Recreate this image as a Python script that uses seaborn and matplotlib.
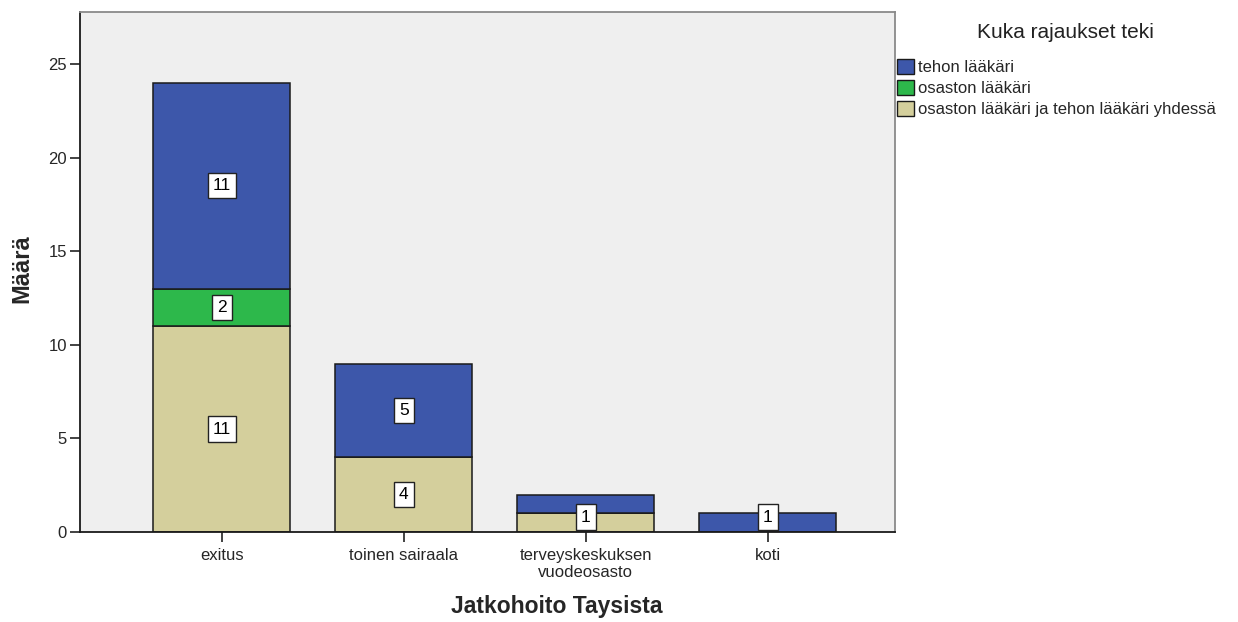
import matplotlib
matplotlib.use("Agg")
import matplotlib.pyplot as plt
from matplotlib.patches import Patch
import numpy as np
import pandas as pd
import seaborn as sns

categories = ["exitus", "toinen sairaala", "terveyskeskuksen\nvuodeosasto", "koti"]
tehon = [11, 5, 1, 1]
osaston = [2, 0, 0, 0]
yhdessa = [11, 4, 1, 0]
series_names = ["tehon lääkäri", "osaston lääkäri", "osaston lääkäri ja tehon lääkäri yhdessä"]
colors = {"tehon lääkäri": "#3D57AA",
          "osaston lääkäri": "#2DB84B",
          "osaston lääkäri ja tehon lääkäri yhdessä": "#D4CF9C"}
y_ticks = [0, 5, 10, 15, 20, 25]

sns.set_theme(style="white")
plt.rcParams["font.family"] = ["Liberation Sans", "DejaVu Sans"]

fig = plt.figure(figsize=(12.38, 6.22), dpi=100)
ax = fig.add_axes([80 / 1238, 90 / 622, 815 / 1238, 520 / 622])
ax.set_facecolor("#EFEFEF")

# stack from bottom: yhdessä, osaston, tehon
layers = [("osaston lääkäri ja tehon lääkäri yhdessä", yhdessa),
          ("osaston lääkäri", osaston),
          ("tehon lääkäri", tehon)]
bottom = np.zeros(len(categories))
label_pos = [[] for _ in categories]
for name, vals in layers:
    vals = np.array(vals, dtype=float)
    df = pd.DataFrame({"cat": categories, "val": vals})
    sns.barplot(data=df, x="cat", y="val", order=categories, color=colors[name],
                saturation=1, width=0.753, bottom=bottom, errorbar=None,
                edgecolor="#1a1a1a", linewidth=1.1, ax=ax)
    for i, v in enumerate(vals):
        if v <= 0:
            continue
        yc = max(bottom[i] + v / 2, 0.8)
        if any(abs(yc - p) < 1.4 for p in label_pos[i]):
            continue
        label_pos[i].append(yc)
        ax.text(i, yc, f"{int(v)}", ha="center", va="center", fontsize=12.5,
                color="black", zorder=5,
                bbox=dict(boxstyle="square,pad=0.3", fc="white", ec="#222222", lw=1.0))
    bottom = bottom + vals

ax.set_xlim(-0.78, 3.70)
ax.set_ylim(0, 27.78)
ax.set_yticks(y_ticks)
ax.set_yticklabels([str(t) for t in y_ticks])
ax.tick_params(axis="both", which="both", direction="out", length=7.5, width=1.2,
               color="#222222", labelsize=12, pad=2, left=True, bottom=True)
ax.tick_params(axis="x", pad=4)

ax.set_xlabel("Jatkohoito Taysista", fontsize=16.5, fontweight="bold")
ax.set_ylabel("Määrä", fontsize=17, fontweight="bold")
ax.xaxis.label.set_verticalalignment("center")
ax.yaxis.label.set_verticalalignment("center")
ax.yaxis.label.set_rotation_mode("anchor")
ax.xaxis.set_label_coords((557 - 80) / 815, (532 - 607) / 520)
ax.yaxis.set_label_coords((22 - 80) / 815, (532 - 269) / 520)

for side in ["left", "bottom"]:
    ax.spines[side].set_color("#1a1a1a")
    ax.spines[side].set_linewidth(1.3)
for side in ["top", "right"]:
    ax.spines[side].set_color("#8a8a8a")
    ax.spines[side].set_linewidth(1.3)
ax.grid(False)

fig.text(1065 / 1238, 1 - 33 / 622, "Kuka rajaukset teki", ha="center", va="center",
         fontsize=15, color="#222222")
handles = [Patch(facecolor=colors[n], edgecolor="#1a1a1a", linewidth=1.0) for n in series_names]
fig.legend(handles, series_names, loc="upper left", bbox_to_anchor=(897 / 1238, 1 - 59 / 622),
           frameon=False, fontsize=12, handlelength=1.0, handleheight=1.0,
           handletextpad=0.25, labelspacing=0.3, borderaxespad=0, borderpad=0)

fig.savefig("out.png", dpi=100, facecolor="white")
